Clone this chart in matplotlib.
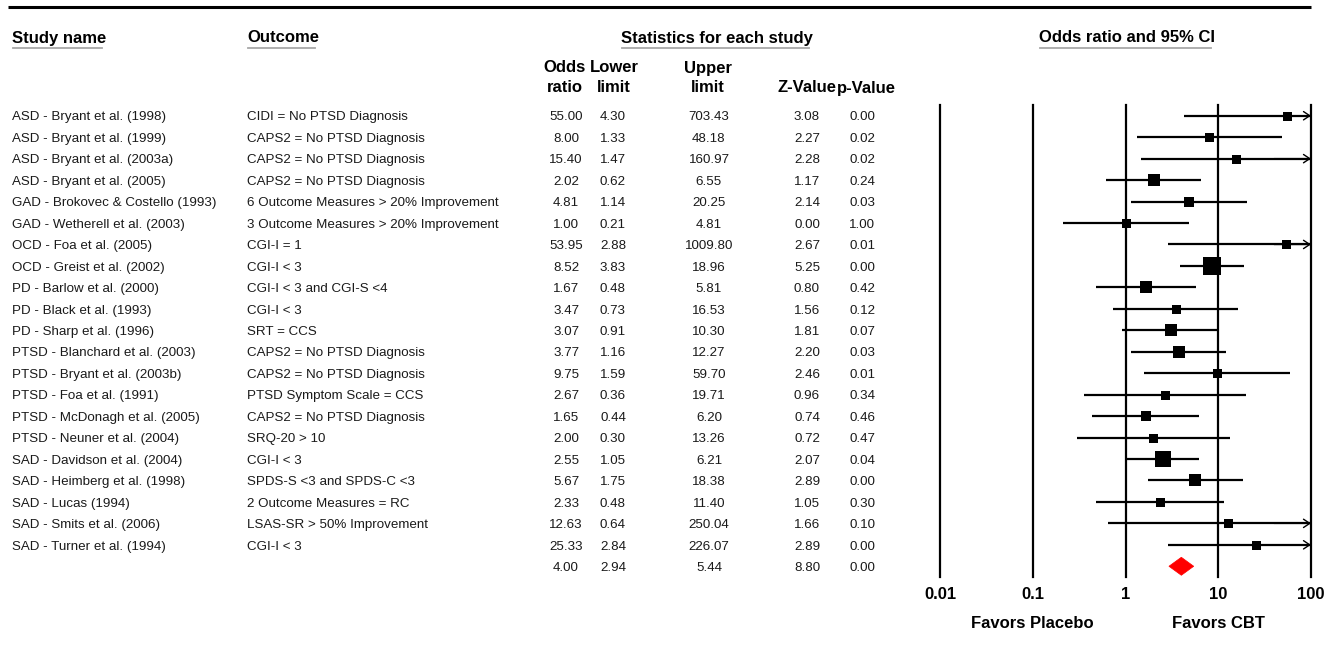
import matplotlib.pyplot as plt
from matplotlib.transforms import blended_transform_factory
from matplotlib.patches import Polygon
from matplotlib.ticker import NullLocator
import numpy as np

plt.rcParams['font.family'] = ['Liberation Sans', 'DejaVu Sans']

# per-study rows
studies = [
    'ASD - Bryant et al. (1998)',
    'ASD - Bryant et al. (1999)',
    'ASD - Bryant et al. (2003a)',
    'ASD - Bryant et al. (2005)',
    'GAD - Brokovec & Costello (1993)',
    'GAD - Wetherell et al. (2003)',
    'OCD - Foa et al. (2005)',
    'OCD - Greist et al. (2002)',
    'PD - Barlow et al. (2000)',
    'PD - Black et al. (1993)',
    'PD - Sharp et al. (1996)',
    'PTSD - Blanchard et al. (2003)',
    'PTSD - Bryant et al. (2003b)',
    'PTSD - Foa et al. (1991)',
    'PTSD - McDonagh et al. (2005)',
    'PTSD - Neuner et al. (2004)',
    'SAD - Davidson et al. (2004)',
    'SAD - Heimberg et al. (1998)',
    'SAD - Lucas (1994)',
    'SAD - Smits et al. (2006)',
    'SAD - Turner et al. (1994)',
]
outcomes = [
    'CIDI = No PTSD Diagnosis',
    'CAPS2 = No PTSD Diagnosis',
    'CAPS2 = No PTSD Diagnosis',
    'CAPS2 = No PTSD Diagnosis',
    '6 Outcome Measures > 20% Improvement',
    '3 Outcome Measures > 20% Improvement',
    'CGI-I = 1',
    'CGI-I < 3',
    'CGI-I < 3 and CGI-S <4',
    'CGI-I < 3',
    'SRT = CCS',
    'CAPS2 = No PTSD Diagnosis',
    'CAPS2 = No PTSD Diagnosis',
    'PTSD Symptom Scale = CCS',
    'CAPS2 = No PTSD Diagnosis',
    'SRQ-20 > 10',
    'CGI-I < 3',
    'SPDS-S <3 and SPDS-C <3',
    '2 Outcome Measures = RC',
    'LSAS-SR > 50% Improvement',
    'CGI-I < 3',
]
odds = [55.00, 8.00, 15.40, 2.02, 4.81, 1.00, 53.95, 8.52, 1.67, 3.47, 3.07,
        3.77, 9.75, 2.67, 1.65, 2.00, 2.55, 5.67, 2.33, 12.63, 25.33]
lower = [4.30, 1.33, 1.47, 0.62, 1.14, 0.21, 2.88, 3.83, 0.48, 0.73, 0.91,
         1.16, 1.59, 0.36, 0.44, 0.30, 1.05, 1.75, 0.48, 0.64, 2.84]
upper = [703.43, 48.18, 160.97, 6.55, 20.25, 4.81, 1009.80, 18.96, 5.81, 16.53, 10.30,
         12.27, 59.70, 19.71, 6.20, 13.26, 6.21, 18.38, 11.40, 250.04, 226.07]
z_values = [3.08, 2.27, 2.28, 1.17, 2.14, 0.00, 2.67, 5.25, 0.80, 1.56, 1.81,
            2.20, 2.46, 0.96, 0.74, 0.72, 2.07, 2.89, 1.05, 1.66, 2.89]
p_values = [0.00, 0.02, 0.02, 0.24, 0.03, 1.00, 0.01, 0.00, 0.42, 0.12, 0.07,
            0.03, 0.01, 0.34, 0.46, 0.47, 0.04, 0.00, 0.30, 0.10, 0.00]

# pooled estimate
pooled_or, pooled_lo, pooled_hi, pooled_z, pooled_p = 4.00, 2.94, 5.44, 8.80, 0.00

ticks = [0.01, 0.1, 1, 10, 100]
tick_labels = ['0.01', '0.1', '1', '10', '100']

W, H = 1340, 664
fig = plt.figure(figsize=(W / 100, H / 100), dpi=100)

# canvas in pixel units for the table part
tab = fig.add_axes([0, 0, 1, 1])
tab.set_xlim(0, W)
tab.set_ylim(H, 0)
tab.axis('off')

# forest plot panel
top, bottom, left, right = 105, 577, 940, 1311
fax = fig.add_axes([left / W, 1 - bottom / H, (right - left) / W, (bottom - top) / H])
fax.patch.set_visible(False)
n = len(studies)
fax.set_xscale('log')
fax.set_xlim(0.01, 100)
fax.set_ylim(n + 0.5, -0.5)
for s in fax.spines.values():
    s.set_visible(False)
fax.set_yticks([])
fax.set_xticks(ticks)
fax.set_xticklabels(tick_labels, fontweight='bold', fontsize=12)
fax.xaxis.set_minor_locator(NullLocator())
fax.tick_params(axis='x', length=0, pad=7)

for v in ticks:
    fax.axvline(v, color='black', lw=1.6, clip_on=False, zorder=1)

for i in range(n):
    lo, hi, est = lower[i], upper[i], odds[i]
    if hi > 100:
        fax.plot([lo, 100], [i, i], color='black', lw=1.6, solid_capstyle='butt', zorder=2)
        fax.annotate('', xy=(100, i), xytext=(40, i),
                     arrowprops=dict(arrowstyle='->,head_length=0.45,head_width=0.3',
                                     color='black', lw=1.0, shrinkA=0, shrinkB=0),
                     annotation_clip=False, zorder=2)
    else:
        fax.plot([lo, hi], [i, i], color='black', lw=1.6, solid_capstyle='butt', zorder=2)
    # box area follows the inverse-variance weight
    se = (np.log(hi) - np.log(lo)) / 3.92
    side = max(9.0, 7.0 * np.sqrt(1 / se ** 2))
    fax.plot(est, i, marker='s', color='black', ms=side * 72 / 100, mew=0, zorder=3)

half_h = 0.42
diamond = Polygon([(pooled_lo, n), (pooled_or, n - half_h), (pooled_hi, n), (pooled_or, n + half_h)],
                  closed=True, facecolor='#ff0000', edgecolor='#ff0000', lw=0.5, zorder=3)
fax.add_patch(diamond)

bt = blended_transform_factory(fax.transData, tab.transData)
fax.text(0.1, 623, 'Favors Placebo', transform=bt, ha='center', va='center',
         fontweight='bold', fontsize=12)
fax.text(10, 623, 'Favors CBT', transform=bt, ha='center', va='center',
         fontweight='bold', fontsize=12)

# table rows share the forest plot's row scale
rt = blended_transform_factory(tab.transData, fax.transData)
body = dict(fontsize=9.6, color='#1a1a1a', va='center', transform=rt)
col_x = [566, 613, 709, 807, 862]
dy = 0.08
for i in range(n):
    tab.text(12, i + dy, studies[i], ha='left', **body)
    tab.text(247, i + dy, outcomes[i], ha='left', **body)
    for x, val in zip(col_x, [odds[i], lower[i], upper[i], z_values[i], p_values[i]]):
        tab.text(x, i + dy, f'{val:.2f}', ha='center', **body)
for x, val in zip(col_x, [pooled_or, pooled_lo, pooled_hi, pooled_z, pooled_p]):
    tab.text(x, n + dy, f'{val:.2f}', ha='center', **body)

# headers
head = dict(fontsize=12, fontweight='bold', color='black', va='center')
underlined = [
    tab.text(12, 38, 'Study name', ha='left', **head),
    tab.text(247, 38, 'Outcome', ha='left', **head),
    tab.text(717, 38, 'Statistics for each study', ha='center', **head),
    tab.text(1127, 38, 'Odds ratio and 95% CI', ha='center', **head),
]
tab.text(565, 68, 'Odds', ha='center', **head)
tab.text(565, 88, 'ratio', ha='center', **head)
tab.text(614, 68, 'Lower', ha='center', **head)
tab.text(614, 88, 'limit', ha='center', **head)
tab.text(708, 68, 'Upper', ha='center', **head)
tab.text(708, 88, 'limit', ha='center', **head)
tab.text(807, 88, 'Z-Value', ha='center', **head)
tab.text(866, 88, 'p-Value', ha='center', **head)

tab.plot([8, 1311], [7, 7], color='black', lw=2.2, solid_capstyle='butt')

fig.canvas.draw()
for t in underlined:
    bb = t.get_window_extent()
    tab.plot([bb.x0 + 1, bb.x1 - 4], [47.5, 47.5], color='#a8a8a8', lw=1.3)

fig.savefig('out.png', dpi=100)
